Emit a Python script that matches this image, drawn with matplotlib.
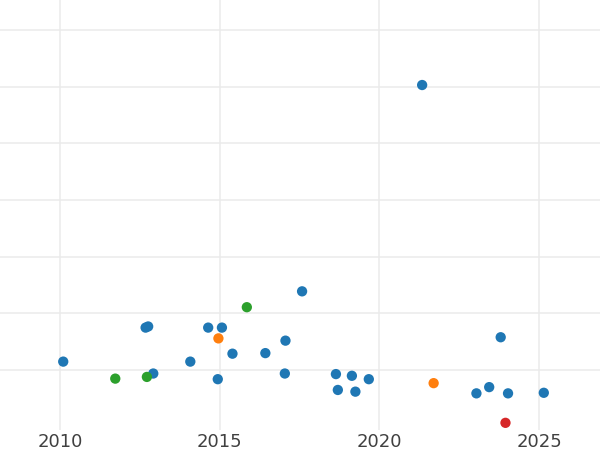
import matplotlib
matplotlib.use("Agg")
import matplotlib.pyplot as plt

# points, grouped by colour
blue_x = [2010.10, 2012.68, 2012.76, 2012.92, 2017.58, 2014.64, 2015.07, 2017.06,
          2015.40, 2016.43, 2014.08, 2017.04, 2014.94, 2018.64, 2019.14, 2019.67,
          2018.70, 2019.25, 2023.80, 2023.04, 2023.44, 2024.03, 2025.15, 2021.34]
blue_y = [1.15, 1.75, 1.77, 0.94, 2.39, 1.75, 1.75, 1.52,
          1.29, 1.30, 1.15, 0.94, 0.84, 0.93, 0.90, 0.84,
          0.65, 0.62, 1.58, 0.59, 0.70, 0.59, 0.60, 6.03]

orange_x = [2014.96, 2021.70]
orange_y = [1.56, 0.77]

green_x = [2011.73, 2012.72, 2015.85]
green_y = [0.85, 0.88, 2.11]

red_x = [2023.95]
red_y = [0.07]

xticks = [2010, 2015, 2020, 2025]
yticks = [1, 2, 3, 4, 5, 6, 7]

fig = plt.figure(figsize=(6, 4.5), dpi=100)
ax = fig.add_axes([0, 0.044, 1, 0.956])

ax.set_axisbelow(True)
ax.grid(True, color="#ebebeb", linewidth=1.1)

for xs, ys, c in [(blue_x, blue_y, "#1f77b4"),
                  (orange_x, orange_y, "#ff7f0e"),
                  (green_x, green_y, "#2ca02c"),
                  (red_x, red_y, "#d62728")]:
    ax.scatter(xs, ys, s=55, color=c, edgecolors="none", zorder=3)

ax.set_xlim(2008.12, 2026.91)
ax.set_ylim(-0.06, 7.53)
ax.set_xticks(xticks)
ax.set_yticks(yticks)
ax.set_yticklabels([])
ax.tick_params(axis="both", length=0, labelsize=13, labelcolor="#404040", pad=2)
for s in ax.spines.values():
    s.set_visible(False)

fig.savefig("out.png", dpi=100)
